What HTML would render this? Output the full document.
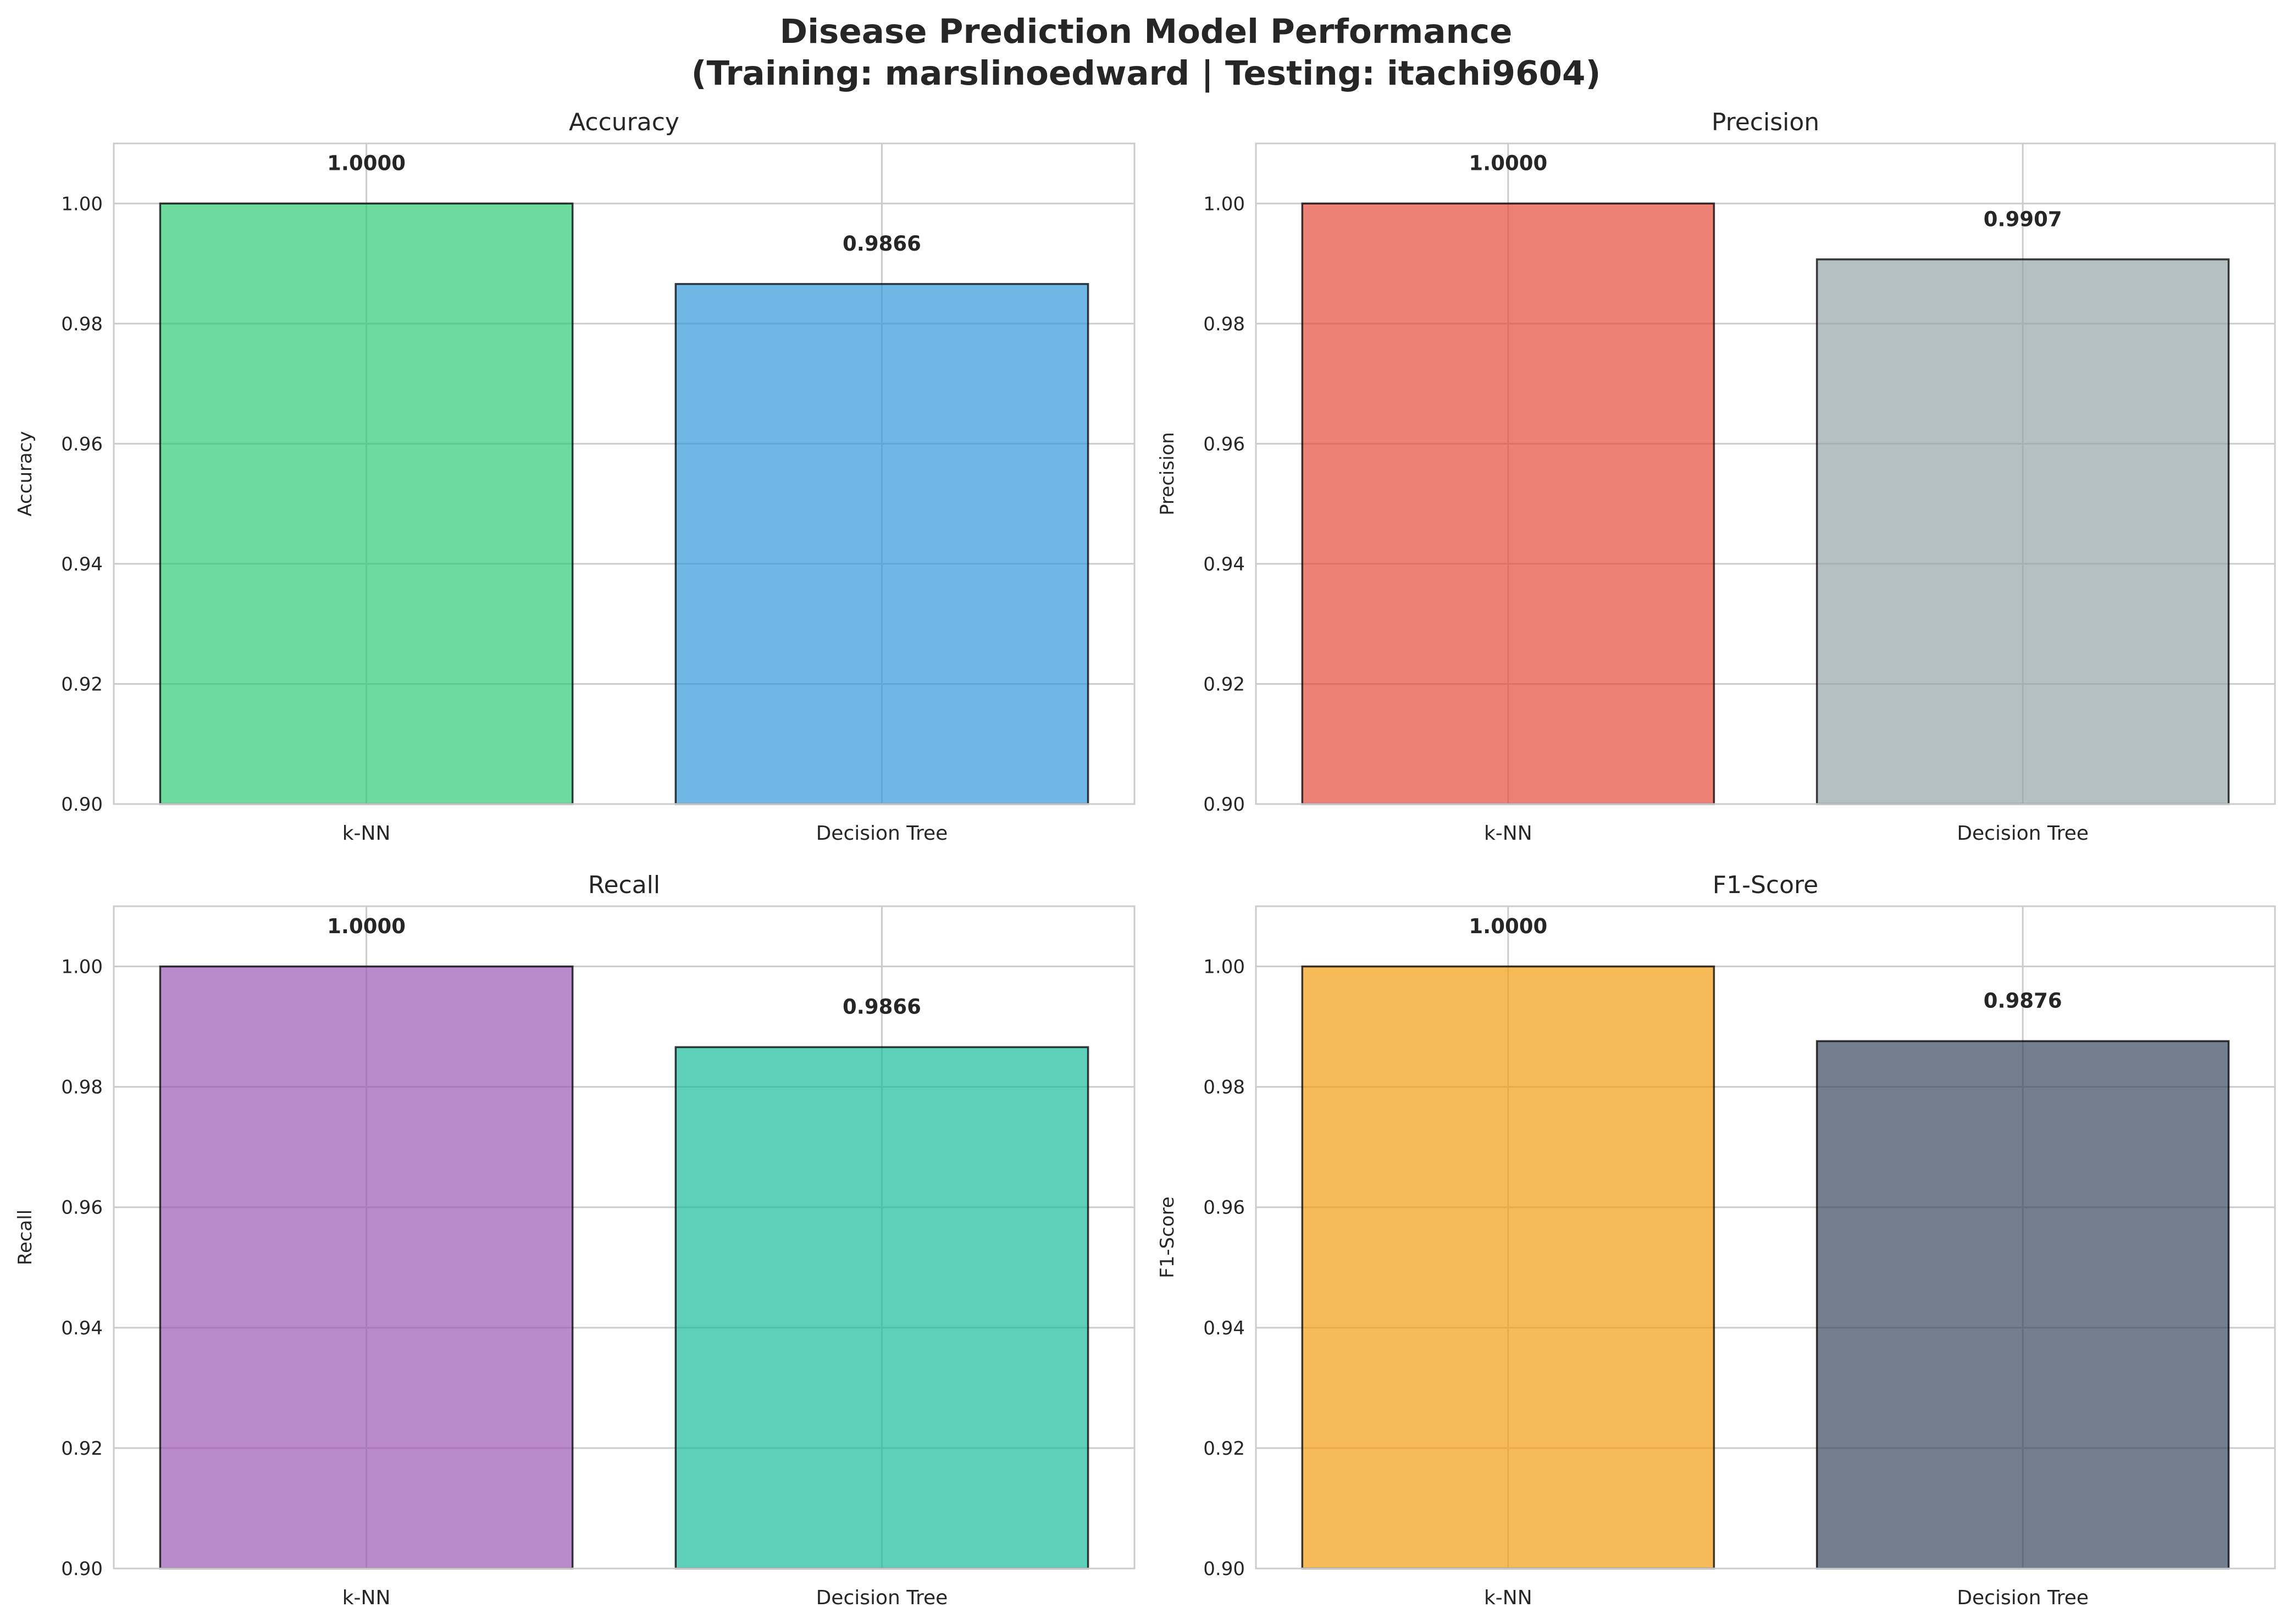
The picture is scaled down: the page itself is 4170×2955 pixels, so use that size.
<!DOCTYPE html>
<html><head><meta charset="utf-8"><style>
html,body{margin:0;padding:0;background:#fff;}
svg{display:block;font-family:"DejaVu Sans","Liberation Sans",sans-serif;}
</style></head><body>
<svg id="fig" width="4170" height="2955" viewBox="0 0 4170 2955" xmlns="http://www.w3.org/2000/svg">
<rect width="4170" height="2955" fill="#fff"/>
<text x="2085" y="78" text-anchor="middle" font-size="61" font-weight="bold" fill="#262626">Disease Prediction Model Performance</text>
<text x="2085" y="154" text-anchor="middle" font-size="61" font-weight="bold" fill="#262626">(Training: marslinoedward | Testing: itachi9604)</text>
</svg>
<script>
const categories = ["k-NN", "Decision Tree"];
const metrics = ["Accuracy", "Precision", "Recall", "F1-Score"];
const accuracyValues = [1.0000, 0.9866];
const precisionValues = [1.0000, 0.9907];
const recallValues = [1.0000, 0.9866];
const f1Values = [1.0000, 0.9876];
const yTicks = [0.90, 0.92, 0.94, 0.96, 0.98, 1.00];
const yMin = 0.90, yMax = 1.01;

const seriesList = [accuracyValues, precisionValues, recallValues, f1Values];
const colorPairs = [["#2ecc71","#3498db"],["#e74c3c","#95a5a6"],["#9b59b6","#1abc9c"],["#f39c12","#34495e"]];
const panels = [
  {l:207,r:2064,t:261,b:1463},
  {l:2285,r:4139,t:261,b:1463},
  {l:207,r:2064,t:1649,b:2854},
  {l:2285,r:4139,t:1649,b:2854}
];
const NS = "http://www.w3.org/2000/svg";
const svg = document.getElementById("fig");
function mk(tag, attrs, parent, text){
  const e = document.createElementNS(NS, tag);
  for (const k in attrs) e.setAttribute(k, attrs[k]);
  if (text !== undefined) e.textContent = text;
  (parent||svg).appendChild(e);
  return e;
}
panels.forEach((p, i) => {
  const g = mk("g", {});
  
  
  const xMin = -0.49, xMax = 1.49;
  const xs = v => p.l + (v - xMin) / (xMax - xMin) * (p.r - p.l);
  const ys = v => p.b - (v - yMin) / (yMax - yMin) * (p.b - p.t);
  yTicks.forEach(t => {
    const ln = mk("line", {x1:p.l, x2:p.r, y1:ys(t), y2:ys(t), stroke:"#cccccc", "stroke-width":3}, g);
    
    
    const tl = mk("text", {x:p.l-20, y:ys(t)+12, "text-anchor":"end", "font-size":34, fill:"#262626"}, g, t.toFixed(2));
    
    
  });
  categories.forEach((c, j) => {
    const ln = mk("line", {x1:xs(j), x2:xs(j), y1:p.t, y2:p.b, stroke:"#cccccc", "stroke-width":3}, g);
    
    
  });
  const vals = seriesList[i];
  categories.forEach((c, j) => {
    const v = vals[j];
    const x0 = xs(j - 0.4), x1 = xs(j + 0.4);
    const bar = mk("rect", {x:x0, y:ys(v), width:x1-x0, height:ys(yMin)-ys(v), fill:colorPairs[i][j], "fill-opacity":0.7, stroke:"#000", "stroke-opacity":0.75, "stroke-width":3.5}, g);
    
    
    const lbl = mk("text", {x:xs(j), y:ys(v+0.005)-6, "text-anchor":"middle", "font-size":37, "font-weight":"bold", fill:"#262626"}, g, v.toFixed(4));
    
    
    const xl = mk("text", {x:xs(j), y:p.b+65, "text-anchor":"middle", "font-size":36, fill:"#262626"}, g, c);
    
    
  });
  const fr = mk("rect", {x:p.l, y:p.t, width:p.r-p.l, height:p.b-p.t, fill:"none", stroke:"#cccccc", "stroke-width":3}, g);
  
  
  const tt = mk("text", {x:(p.l+p.r)/2, y:p.t-24, "text-anchor":"middle", "font-size":44, fill:"#262626"}, g, metrics[i]);
  
  
  const yl = mk("text", {x:0, y:0, "text-anchor":"middle", "font-size":34, fill:"#262626", transform:`translate(${p.l-150},${(p.t+p.b)/2}) rotate(-90)`}, g, metrics[i]);
  
  
});
</script>
</body></html>
